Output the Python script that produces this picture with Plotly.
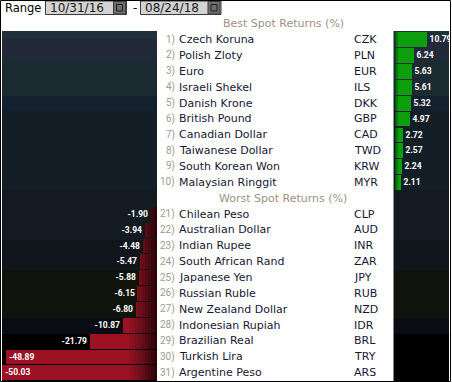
import plotly.graph_objects as go

# ---------------- data ----------------
date_start = "10/31/16"
date_end = "08/24/18"
best_title = "Best Spot Returns (%)"
worst_title = "Worst Spot Returns (%)"

best_rank = [1, 2, 3, 4, 5, 6, 7, 8, 9, 10]
best_names = ["Czech Koruna", "Polish Zloty", "Euro", "Israeli Shekel", "Danish Krone",
              "British Pound", "Canadian Dollar", "Taiwanese Dollar", "South Korean Won",
              "Malaysian Ringgit"]
best_codes = ["CZK", "PLN", "EUR", "ILS", "DKK", "GBP", "CAD", "TWD", "KRW", "MYR"]
best_values = [10.79, 6.24, 5.63, 5.61, 5.32, 4.97, 2.72, 2.57, 2.24, 2.11]

worst_rank = [21, 22, 23, 24, 25, 26, 27, 28, 29, 30, 31]
worst_names = ["Chilean Peso", "Australian Dollar", "Indian Rupee", "South African Rand",
               "Japanese Yen", "Russian Ruble", "New Zealand Dollar", "Indonesian Rupiah",
               "Brazilian Real", "Turkish Lira", "Argentine Peso"]
worst_codes = ["CLP", "AUD", "INR", "ZAR", "JPY", "RUB", "NZD", "IDR", "BRL", "TRY", "ARS"]
worst_values = [-1.90, -3.94, -4.48, -5.47, -5.88, -6.15, -6.80, -10.87, -21.79, -48.89, -50.03]

# ---------------- layout helpers ----------------
W, H = 452, 382


def px(x):
    return x / W


def py(y):
    return 1 - y / H


best_slots = [i + 1 for i in range(len(best_values))]
worst_slots = [len(best_values) + 2 + i for i in range(len(worst_values))]
header_best_slot = 0
header_worst_slot = len(best_values) + 1

RED = "#9c1124"
GREEN = "#0c9e0c"
LABEL_FONT = "Roboto, Liberation Sans, sans-serif"
NUM_FONT = "Roboto, Liberation Sans, sans-serif"
TABLE_FONT = "DejaVu Sans, Verdana, sans-serif"
LBL = dict(family=LABEL_FONT, size=8.5, color="white", weight="bold")

fig = go.Figure()

# ---- left (worst) bars ----
worst_pos = ["inside" if v < -40 else "outside" for v in worst_values]
fig.add_trace(go.Bar(
    orientation="h", x=worst_values, y=worst_slots, xaxis="x", yaxis="y",
    marker=dict(color=RED, line=dict(width=0)), width=0.93,
    text=[f"{v:.2f}" for v in worst_values], textposition=worst_pos,
    insidetextanchor="end", constraintext="none", cliponaxis=False,
    textfont=LBL, outsidetextfont=LBL, insidetextfont=LBL,
    hoverinfo="skip", showlegend=False))

# horizontal darkening of the red bars near the table edge
red_fade_edges = [-9, -8, -7, -6, -5, -4, -3, -2, -1, 0]
red_fade_colors = ["#921022", "#88101f", "#7c0f1d", "#700e1a", "#630c17",
                   "#560a14", "#480810", "#3a060c", "#2c0408"]
for a, b, col in zip(red_fade_edges[:-1], red_fade_edges[1:], red_fade_colors):
    lens = [(max(v, a) - b) if v < b else 0 for v in worst_values]
    fig.add_trace(go.Bar(
        orientation="h", x=lens, base=[b] * len(lens), y=worst_slots, xaxis="x", yaxis="y",
        marker=dict(color=col, line=dict(width=0)), width=0.93,
        hoverinfo="skip", showlegend=False))

# ---- right (best) bars ----
fig.add_trace(go.Bar(
    orientation="h", x=best_values, y=best_slots, xaxis="x2", yaxis="y",
    marker=dict(color=GREEN, line=dict(width=0)), width=0.93,
    text=[f"{v:.2f}" for v in best_values], textposition="outside",
    constraintext="none", cliponaxis=False,
    textfont=LBL, outsidetextfont=LBL,
    hoverinfo="skip", showlegend=False))
green_fade_edges = [0, 0.35, 0.8]
green_fade_colors = ["#06500a", "#0a780d"]
for a, b, col in zip(green_fade_edges[:-1], green_fade_edges[1:], green_fade_colors):
    lens = [(min(v, b) - a) if v > a else 0 for v in best_values]
    fig.add_trace(go.Bar(
        orientation="h", x=lens, base=[a] * len(lens), y=best_slots, xaxis="x2", yaxis="y",
        marker=dict(color=col, line=dict(width=0)), width=0.93,
        hoverinfo="skip", showlegend=False))

# ---------------- shapes: panel backgrounds ----------------
shapes = []
bands = [
    (31, 35, "#1d2f37"), (35, 38, "#1f3038"), (38, 56, "#222938"), (56, 62, "#1f2a35"),
    (62, 88, "#1c2a31"), (88, 96, "#1b2a31"), (96, 110, "#13202f"), (110, 190, "#141e27"),
    (190, 240, "#131a22"), (240, 270, "#10161b"), (270, 318, "#0f130b"),
    (318, 334, "#0a0c13"), (334, 381, "#000000"),
]
for x0, x1 in [(2, 157), (393.5, 449)]:
    for y0, y1, col in bands:
        shapes.append(dict(type="rect", xref="paper", yref="paper", layer="below",
                           x0=px(x0), x1=px(x1), y0=py(y1), y1=py(y0),
                           fillcolor=col, line=dict(width=0)))

# top bar: date boxes with calendar buttons
for bx0, bx1 in [(45.5, 126.5), (140.5, 221)]:
    shapes.append(dict(type="rect", xref="paper", yref="paper", x0=px(bx0), x1=px(bx1),
                       y0=py(14.5), y1=py(1), fillcolor="#d3d3d3",
                       line=dict(color="#3c3c3c", width=1)))
    shapes.append(dict(type="rect", xref="paper", yref="paper", x0=px(bx1 - 13), x1=px(bx1 - 1),
                       y0=py(14), y1=py(1.5), fillcolor="#6e6e6e",
                       line=dict(color="#3c3c3c", width=1)))
    shapes.append(dict(type="rect", xref="paper", yref="paper", x0=px(bx1 - 10), x1=px(bx1 - 4),
                       y0=py(11), y1=py(4.5), fillcolor="#6e6e6e",
                       line=dict(color="#1e1e1e", width=1)))

# outer frame
shapes.append(dict(type="rect", xref="paper", yref="paper", x0=px(0.5), x1=px(450.5),
                   y0=py(381.5), y1=py(0.5), line=dict(color="#000000", width=1),
                   fillcolor="rgba(0,0,0,0)"))

# ---------------- annotations ----------------
ann = []
ann.append(dict(text="Range", x=px(3), y=py(8), xref="paper", yref="paper",
                xanchor="left", yanchor="middle", showarrow=False,
                font=dict(family=TABLE_FONT, size=11.5, color="#000000")))
ann.append(dict(text=date_start, x=px(47.5), y=py(8), xref="paper", yref="paper",
                xanchor="left", yanchor="middle", showarrow=False,
                font=dict(family=TABLE_FONT, size=12, color="#1a1a1a")))
ann.append(dict(text="-", x=px(134.5), y=py(8), xref="paper", yref="paper",
                xanchor="center", yanchor="middle", showarrow=False,
                font=dict(family=TABLE_FONT, size=12, color="#000000")))
ann.append(dict(text=date_end, x=px(142.5), y=py(8), xref="paper", yref="paper",
                xanchor="left", yanchor="middle", showarrow=False,
                font=dict(family=TABLE_FONT, size=12, color="#1a1a1a")))

HEADER_COLOR = "#a0917f"
NUM_COLOR = "#a09a92"
NAME_COLOR = "#171733"
for txt, slot in [(best_title, header_best_slot), (worst_title, header_worst_slot)]:
    ann.append(dict(text=txt, x=px(283), y=slot, xref="paper", yref="y",
                    xanchor="center", yanchor="middle", showarrow=False,
                    font=dict(family=TABLE_FONT, size=11, color=HEADER_COLOR)))

for ranks, names, codes, slots in [(best_rank, best_names, best_codes, best_slots),
                                   (worst_rank, worst_names, worst_codes, worst_slots)]:
    for r, n, c, s in zip(ranks, names, codes, slots):
        ann.append(dict(text=f"{r})", x=px(177), y=s, xref="paper", yref="y",
                        xanchor="right", yanchor="middle", showarrow=False,
                        font=dict(family=NUM_FONT, size=10, color=NUM_COLOR)))
        ann.append(dict(text=n, x=px(177), y=s, xref="paper", yref="y",
                        xanchor="left", yanchor="middle", showarrow=False,
                        font=dict(family=TABLE_FONT, size=11, color=NAME_COLOR)))
        ann.append(dict(text=c, x=px(351.5), y=s, xref="paper", yref="y",
                        xanchor="left", yanchor="middle", showarrow=False,
                        font=dict(family=TABLE_FONT, size=11, color=NAME_COLOR)))

axis_common = dict(visible=False, showgrid=False, zeroline=False, fixedrange=True)
fig.update_layout(
    width=W, height=H, autosize=False,
    margin=dict(l=0, r=0, t=0, b=0, pad=0),
    paper_bgcolor="white", plot_bgcolor="rgba(0,0,0,0)",
    barmode="overlay", bargap=0,
    xaxis=dict(domain=[px(2), px(157)], range=[-50.1, 0], anchor="y", **axis_common),
    xaxis2=dict(domain=[px(394.5), px(448)], range=[0, 18], anchor="y", **axis_common),
    yaxis=dict(domain=[1 - 380.6 / H, 1 - 15.8 / H], range=[len(best_values) + len(worst_values) + 1.5, -0.5],
               **axis_common),
    shapes=shapes, annotations=ann, showlegend=False,
)

fig.write_html("out.html", config={"displayModeBar": False})
